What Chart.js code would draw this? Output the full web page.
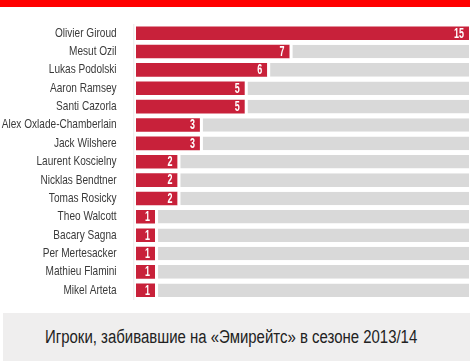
<!DOCTYPE html>
<html>
<head>
<meta charset="utf-8">
<script src="https://cdn.jsdelivr.net/npm/chart.js@4/dist/chart.umd.min.js"></script>
<style>
  body { margin: 0; width: 470px; height: 361px; position: relative; background: #fff; overflow: hidden; }
  .strip { position: absolute; left: 0; top: 0; width: 470px; height: 7px; background: #ff0000; z-index: 2; }
  /* canvas starts 30px off the left edge so the squeezed axis labels are not clipped */
  .chart-box { position: absolute; left: -30px; top: 0; width: 500px; height: 320px; }
  .caption-bg { position: absolute; left: 3px; top: 313px; width: 467px; height: 48px; background: #efeeee; z-index: 2; }
  .caption {
    position: absolute; left: 45px; top: 313px; height: 48px; z-index: 3; color: #222;
    font: 17.6px 'Liberation Sans', Arial, sans-serif; line-height: 48px; white-space: nowrap;
    transform: scaleX(0.85); transform-origin: 0 50%;
  }
</style>
</head>
<body>
<div class="strip"></div>
<div class="chart-box"><canvas id="myChart" width="500" height="320"></canvas></div>
<div class="caption-bg"></div>
<div class="caption">Игроки, забивавшие на «Эмирейтс» в сезоне 2013/14</div>

<script>
const players = [
  'Olivier Giroud', 'Mesut Ozil', 'Lukas Podolski', 'Aaron Ramsey', 'Santi Cazorla',
  'Alex Oxlade-Chamberlain', 'Jack Wilshere', 'Laurent Koscielny', 'Nicklas Bendtner', 'Tomas Rosicky',
  'Theo Walcott', 'Bacary Sagna', 'Per Mertesacker', 'Mathieu Flamini', 'Mikel Arteta'
];
const goals = [15, 7, 6, 5, 5, 3, 3, 2, 2, 2, 1, 1, 1, 1, 1];
const maxGoals = 15;

const AXIS_WIDTH = 166;    // canvas px left of the bars (136 on the page)
const LABEL_PAD = 13;
const LABEL_RIGHT = AXIS_WIDTH - LABEL_PAD;
const NAME_SQUEEZE = 0.8;  // no narrow font installed, so squeeze the axis text

// squeeze the axis layer horizontally around the labels' right edge
const narrowAxis = {
  id: 'narrowAxis',
  beforeDraw(chart) {
    const {ctx} = chart;
    ctx.save();
    ctx.translate(LABEL_RIGHT, 0);
    ctx.scale(NAME_SQUEEZE, 1);
    ctx.translate(-LABEL_RIGHT, 0);
  },
  beforeDatasetsDraw(chart) {
    chart.ctx.restore();
  }
};

// white numbers at the end of each red bar
const valueLabels = {
  id: 'valueLabels',
  afterDatasetsDraw(chart) {
    const {ctx} = chart;
    const meta = chart.getDatasetMeta(1);
    ctx.save();
    ctx.fillStyle = '#fff';
    ctx.font = "bold 14px 'Liberation Sans'";
    ctx.textAlign = 'right';
    ctx.textBaseline = 'middle';
    meta.data.forEach((bar, i) => {
      ctx.save();
      ctx.translate(bar.x - 5, bar.y + 0.5);
      ctx.scale(0.64, 1);
      ctx.fillText(String(goals[i]), 0, 0);
      ctx.restore();
    });
    ctx.restore();
  }
};

const myChart = document.getElementById('myChart');

new Chart(myChart, {
  type: 'bar',
  data: {
    labels: players,
    datasets: [
      {
        // grey remainder up to the top scorer
        data: goals.map(g => [g, maxGoals]),
        backgroundColor: '#d9d9d9',
        borderColor: '#fff',
        borderWidth: {left: 3, right: 0, top: 0, bottom: 0},
        borderSkipped: false,
        grouped: false,
        barPercentage: 0.74,
        categoryPercentage: 1
      },
      {
        data: goals,
        backgroundColor: '#c8213a',
        borderWidth: 0,
        grouped: false,
        barPercentage: 0.74,
        categoryPercentage: 1
      }
    ]
  },
  options: {
    indexAxis: 'y',
    responsive: false,
    animation: false,
    devicePixelRatio: 1,
    layout: {padding: {left: 0, right: 1, top: 24, bottom: 6}},
    plugins: {legend: {display: false}, tooltip: {enabled: false}},
    scales: {
      x: {display: false, min: 0.15, max: maxGoals},
      y: {
        grid: {display: false},
        border: {display: true, color: '#e6e6e6'},
        ticks: {
          padding: LABEL_PAD,
          color: '#3a3a3a',
          font: {family: "'Liberation Sans', Arial, sans-serif", size: 12.6}
        },
        afterFit: (scale) => { scale.width = AXIS_WIDTH; }
      }
    }
  },
  plugins: [narrowAxis, valueLabels]
});
</script>
</body>
</html>
